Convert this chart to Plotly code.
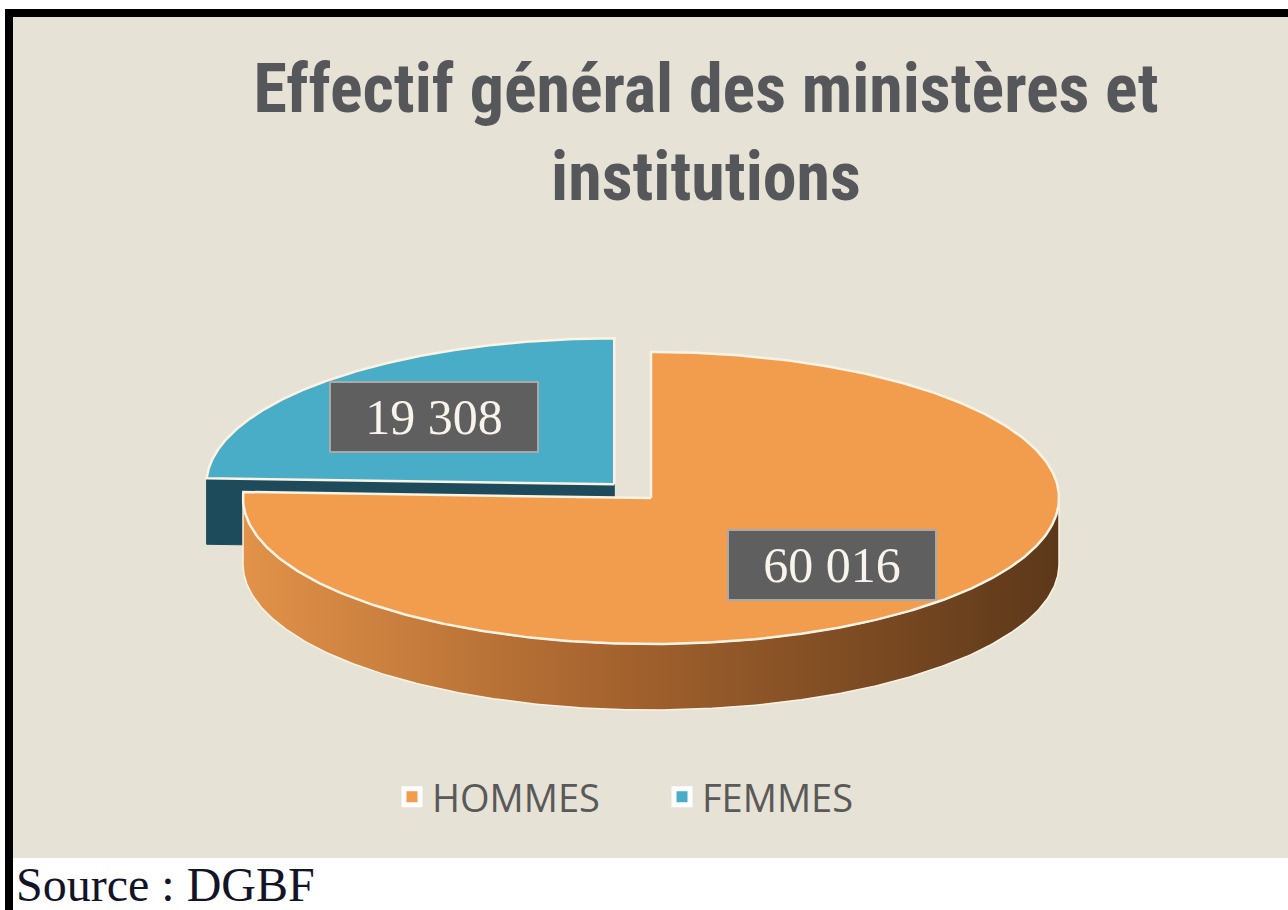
import numpy as np
import plotly.graph_objects as go

# ---------------- data ----------------
categories = ["HOMMES", "FEMMES"]
values = [60016, 19308]
value_labels = ["60 016", "19 308"]
title_lines = ["Effectif général des ministères et", "institutions"]
source_text = "Source : DGBF"

# ---------------- styles ----------------
top_colors = ["#f29d4e", "#4aadc7"]
cut_colors = ["#8a5228", "#1d4b5b"]
side_scales = [
    [[0, "#e29249"], [0.45, "#a5632e"], [1, "#5c381a"]],
    [[0, "#2a6478"], [1, "#163c49"]],
]
explode = [0.0, 0.13]
outline = "#fbf3e4"

W, H = 1288, 910
cx, cy, rx, ry, depth = 651, 498, 408, 146, 66
label_f = 0.64

fig = go.Figure()

total = float(sum(values))
slices = []
a = 90.0
for i, v in enumerate(values):
    sweep = 360.0 * v / total
    a0, a1 = a, a - sweep
    mid = np.radians((a0 + a1) / 2)
    ox = explode[i] * rx * np.cos(mid)
    oy = -explode[i] * ry * np.sin(mid)
    slices.append(dict(i=i, a0=a0, a1=a1, mid=mid, ox=ox, oy=oy))
    a = a1


def pt(theta, ox, oy, dz=0.0):
    t = np.radians(theta)
    return cx + ox + rx * np.cos(t), cy + oy - ry * np.sin(t) + dz


# painter's order: back slices first
for s in sorted(slices, key=lambda s: -np.sin(s["mid"])):
    i, a0, a1, ox, oy = s["i"], s["a0"], s["a1"], s["ox"], s["oy"]
    ccx, ccy = cx + ox, cy + oy
    # radial cut faces visible to viewer
    for edge, vis in ((a0, np.cos(np.radians(a0)) < -1e-6), (a1, np.cos(np.radians(a1)) > 1e-6)):
        if vis:
            ex, ey = pt(edge, ox, oy)
            fig.add_trace(go.Scatter(
                x=[ccx, ex, ex, ccx, ccx], y=[ccy, ey, ey + depth, ccy + depth, ccy],
                mode="lines", fill="toself", fillcolor=cut_colors[i],
                line=dict(color=cut_colors[i], width=1), hoverinfo="skip", showlegend=False))
    # outer wall (front half only)
    th = np.linspace(a0, a1, 400)
    front = th[np.sin(np.radians(th)) <= 0]
    if len(front) > 1:
        xs_t, ys_t = pt(front, ox, oy)
        xs_b, ys_b = pt(front[::-1], ox, oy, depth)
        xs = np.concatenate([xs_t, xs_b, xs_t[:1]])
        ys = np.concatenate([ys_t, ys_b, ys_t[:1]])
        fig.add_trace(go.Scatter(
            x=xs, y=ys, mode="lines", fill="toself",
            fillgradient=dict(type="horizontal", colorscale=side_scales[i]),
            line=dict(color=outline, width=1.5), hoverinfo="skip", showlegend=False))
    # top face
    xs_a, ys_a = pt(th, ox, oy)
    xs = np.concatenate([[ccx], xs_a, [ccx]])
    ys = np.concatenate([[ccy], ys_a, [ccy]])
    fig.add_trace(go.Scatter(
        x=xs, y=ys, mode="lines", fill="toself", fillcolor=top_colors[i],
        line=dict(color=outline, width=2.5), hoverinfo="skip", showlegend=False))

# value labels
for s in slices:
    i = s["i"]
    lx = cx + s["ox"] + label_f * rx * np.cos(s["mid"])
    ly = cy + s["oy"] - label_f * ry * np.sin(s["mid"])
    fig.add_annotation(
        x=lx, y=ly, xref="x", yref="y", text=value_labels[i], showarrow=False,
        font=dict(family="Liberation Serif, Times New Roman, serif", size=50, color="#f8f4ec"),
        bgcolor="#5f5f5f", bordercolor="#a9a9a9", borderwidth=2, borderpad=6,
        width=194, height=56, xanchor="center", yanchor="middle")

# legend entries
for i, c in enumerate(categories):
    fig.add_trace(go.Scatter(
        x=[None], y=[None], mode="markers", name=c,
        marker=dict(symbol="square", size=16, color=top_colors[i], line=dict(color="white", width=5))))

# source
fig.add_annotation(
    x=14, y=884, xref="x", yref="y", text=source_text, showarrow=False,
    xanchor="left", yanchor="middle",
    font=dict(family="Liberation Serif, Times New Roman, serif", size=48, color="#141428"))

# frame
shapes = [
    dict(type="rect", xref="x", yref="y", x0=13, x1=W, y0=17, y1=858,
         fillcolor="#e7e2d6", line=dict(width=0), layer="below"),
    dict(type="rect", xref="x", yref="y", x0=5, x1=W, y0=9, y1=17,
         fillcolor="black", line=dict(width=0), layer="below"),
    dict(type="rect", xref="x", yref="y", x0=5, x1=13, y0=9, y1=H,
         fillcolor="black", line=dict(width=0), layer="below"),
]

fig.update_layout(
    width=W, height=H,
    margin=dict(l=0, r=0, t=0, b=0),
    paper_bgcolor="white", plot_bgcolor="rgba(0,0,0,0)",
    shapes=shapes,
    xaxis=dict(range=[0, W], visible=False, fixedrange=True),
    yaxis=dict(range=[H, 0], visible=False, fixedrange=True),
    title=dict(
        text="<b>" + "<br>".join(title_lines) + "</b>",
        x=706 / W, xanchor="center", y=1 - 112 / H, yanchor="top", yref="container",
        font=dict(family="Liberation Sans Narrow, Arial Narrow, Roboto Condensed, Liberation Sans, sans-serif",
                  size=68, color="#55575a")),
    legend=dict(
        orientation="h", x=392 / W, xanchor="left", y=1 - 797 / H, yanchor="middle",
        entrywidth=225, entrywidthmode="pixels",
        bgcolor="rgba(0,0,0,0)", font=dict(family="Open Sans, Lato, sans-serif", size=38, color="#595959")),
    showlegend=True,
)

fig.write_html("out.html", config={"displayModeBar": False},
               post_script="document.body.style.margin='0';document.body.style.overflow='hidden';")
